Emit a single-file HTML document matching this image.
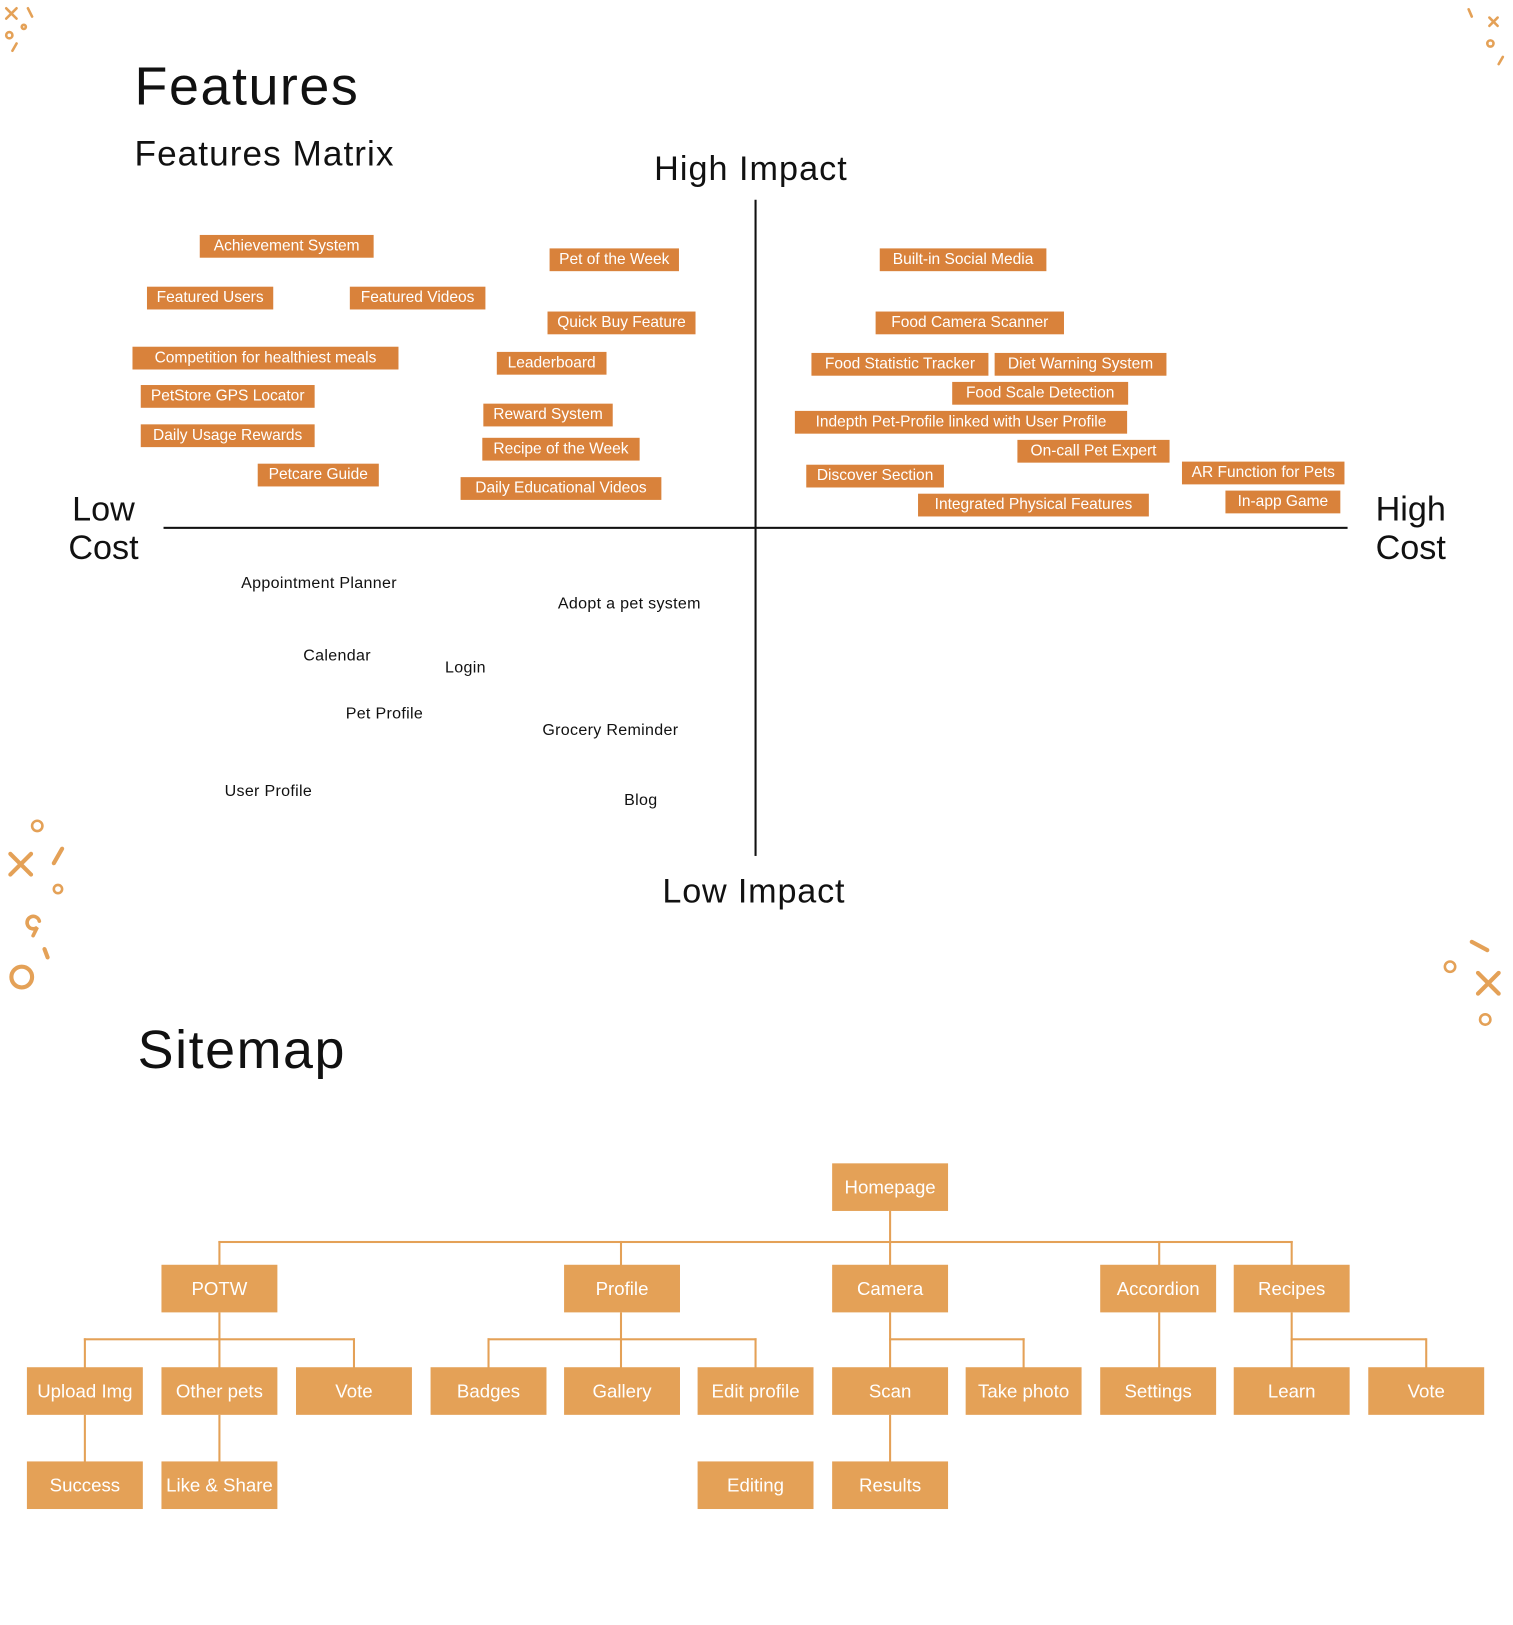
<!DOCTYPE html>
<html><head><meta charset="utf-8"><style>
html,body{margin:0;padding:0;background:#fff;}
body{width:1513px;height:1625px;overflow:hidden;position:relative;}
#w{position:absolute;left:0;top:0;width:1462px;height:1570px;transform:scale(1.035);transform-origin:0 0;font-family:"Liberation Sans",sans-serif;}
.t{position:absolute;color:#111;white-space:nowrap;}
.m{position:absolute;background:#d9823b;color:#fff;font-size:15px;height:22px;line-height:22px;text-align:center;white-space:nowrap;}
.p{position:absolute;font-size:15.5px;letter-spacing:0.3px;color:#111;white-space:nowrap;transform:translateY(-50%);}
.s{position:absolute;background:#e4a157;color:#fff;font-size:18px;width:112px;height:46px;line-height:46px;text-align:center;white-space:nowrap;}
.l{position:absolute;background:#e4a157;}
</style></head><body><div id="w">
<div class="t" style="left:130px;top:54px;font-size:52px;letter-spacing:1.5px;">Features</div>
<div class="t" style="left:130px;top:130px;font-size:34px;letter-spacing:1px;">Features Matrix</div>
<div class="t" style="left:632px;top:144px;font-size:33px;letter-spacing:1px;">High Impact</div>
<div class="t" style="left:640px;top:842px;font-size:33px;letter-spacing:0.8px;">Low Impact</div>
<div class="t" style="left:60px;top:473px;font-size:33px;text-align:center;width:80px;line-height:37px;">Low<br>Cost</div>
<div class="t" style="left:1318px;top:473px;font-size:33px;text-align:center;width:90px;line-height:37px;">High<br>Cost</div>
<div style="position:absolute;left:729px;top:193px;width:2px;height:634px;background:#111"></div>
<div style="position:absolute;left:158px;top:509px;width:1144px;height:2px;background:#111"></div>

<div class="m" style="left:193px;top:227px;width:168px">Achievement System</div>
<div class="m" style="left:531px;top:240px;width:125px">Pet of the Week</div>
<div class="m" style="left:850px;top:240px;width:161px">Built-in Social Media</div>
<div class="m" style="left:142px;top:277px;width:122px">Featured Users</div>
<div class="m" style="left:338px;top:277px;width:131px">Featured Videos</div>
<div class="m" style="left:529px;top:301px;width:143px">Quick Buy Feature</div>
<div class="m" style="left:846px;top:301px;width:182px">Food Camera Scanner</div>
<div class="m" style="left:128px;top:335px;width:257px">Competition for healthiest meals</div>
<div class="m" style="left:480px;top:340px;width:106px">Leaderboard</div>
<div class="m" style="left:784px;top:341px;width:171px">Food Statistic Tracker</div>
<div class="m" style="left:961px;top:341px;width:166px">Diet Warning System</div>
<div class="m" style="left:136px;top:372px;width:168px">PetStore GPS Locator</div>
<div class="m" style="left:920px;top:369px;width:170px">Food Scale Detection</div>
<div class="m" style="left:467px;top:390px;width:125px">Reward System</div>
<div class="m" style="left:768px;top:397px;width:321px">Indepth Pet-Profile linked with User Profile</div>
<div class="m" style="left:136px;top:410px;width:168px">Daily Usage Rewards</div>
<div class="m" style="left:466px;top:423px;width:152px">Recipe of the Week</div>
<div class="m" style="left:983px;top:425px;width:147px">On-call Pet Expert</div>
<div class="m" style="left:249px;top:448px;width:117px">Petcare Guide</div>
<div class="m" style="left:445px;top:461px;width:194px">Daily Educational Videos</div>
<div class="m" style="left:779px;top:449px;width:133px">Discover Section</div>
<div class="m" style="left:1142px;top:446px;width:157px">AR Function for Pets</div>
<div class="m" style="left:887px;top:477px;width:223px">Integrated Physical Features</div>
<div class="m" style="left:1184px;top:474px;width:111px">In-app Game</div>

<div class="p" style="left:233px;top:564px">Appointment Planner</div>
<div class="p" style="left:539px;top:584px">Adopt a pet system</div>
<div class="p" style="left:293px;top:634px">Calendar</div>
<div class="p" style="left:430px;top:646px">Login</div>
<div class="p" style="left:334px;top:690px">Pet Profile</div>
<div class="p" style="left:524px;top:706px">Grocery Reminder</div>
<div class="p" style="left:217px;top:765px">User Profile</div>
<div class="p" style="left:603px;top:774px">Blog</div>

<div class="t" style="left:133px;top:985px;font-size:52px;letter-spacing:1.5px;">Sitemap</div>

<div class="l" style="left:859px;top:1170px;width:2px;height:30px"></div>
<div class="l" style="left:211px;top:1199px;width:1038px;height:2px"></div>
<div class="l" style="left:211px;top:1199px;width:2px;height:24px"></div>
<div class="l" style="left:599px;top:1199px;width:2px;height:24px"></div>
<div class="l" style="left:859px;top:1199px;width:2px;height:24px"></div>
<div class="l" style="left:1119px;top:1199px;width:2px;height:24px"></div>
<div class="l" style="left:1247px;top:1199px;width:2px;height:24px"></div>
<div class="l" style="left:211px;top:1268px;width:2px;height:54px"></div>
<div class="l" style="left:81px;top:1293px;width:262px;height:2px"></div>
<div class="l" style="left:81px;top:1293px;width:2px;height:29px"></div>
<div class="l" style="left:341px;top:1293px;width:2px;height:29px"></div>
<div class="l" style="left:599px;top:1268px;width:2px;height:54px"></div>
<div class="l" style="left:471px;top:1293px;width:260px;height:2px"></div>
<div class="l" style="left:471px;top:1293px;width:2px;height:29px"></div>
<div class="l" style="left:729px;top:1293px;width:2px;height:29px"></div>
<div class="l" style="left:859px;top:1268px;width:2px;height:54px"></div>
<div class="l" style="left:859px;top:1293px;width:131px;height:2px"></div>
<div class="l" style="left:988px;top:1293px;width:2px;height:29px"></div>
<div class="l" style="left:1119px;top:1268px;width:2px;height:54px"></div>
<div class="l" style="left:1247px;top:1268px;width:2px;height:54px"></div>
<div class="l" style="left:1247px;top:1293px;width:131px;height:2px"></div>
<div class="l" style="left:1377px;top:1293px;width:2px;height:29px"></div>
<div class="l" style="left:81px;top:1367px;width:2px;height:46px"></div>
<div class="l" style="left:211px;top:1367px;width:2px;height:46px"></div>
<div class="l" style="left:859px;top:1367px;width:2px;height:46px"></div>

<div class="s" style="left:804px;top:1124px">Homepage</div>
<div class="s" style="left:156px;top:1222px">POTW</div>
<div class="s" style="left:545px;top:1222px">Profile</div>
<div class="s" style="left:804px;top:1222px">Camera</div>
<div class="s" style="left:1063px;top:1222px">Accordion</div>
<div class="s" style="left:1192px;top:1222px">Recipes</div>
<div class="s" style="left:26px;top:1321px">Upload Img</div>
<div class="s" style="left:156px;top:1321px">Other pets</div>
<div class="s" style="left:286px;top:1321px">Vote</div>
<div class="s" style="left:416px;top:1321px">Badges</div>
<div class="s" style="left:545px;top:1321px">Gallery</div>
<div class="s" style="left:674px;top:1321px">Edit profile</div>
<div class="s" style="left:804px;top:1321px">Scan</div>
<div class="s" style="left:933px;top:1321px">Take photo</div>
<div class="s" style="left:1063px;top:1321px">Settings</div>
<div class="s" style="left:1192px;top:1321px">Learn</div>
<div class="s" style="left:1322px;top:1321px">Vote</div>
<div class="s" style="left:26px;top:1412px">Success</div>
<div class="s" style="left:156px;top:1412px">Like &amp; Share</div>
<div class="s" style="left:674px;top:1412px">Editing</div>
<div class="s" style="left:804px;top:1412px">Results</div>

<svg style="position:absolute;left:0;top:0" width="1462" height="1570">
<g stroke="#e4a157" fill="none" stroke-width="2.5" stroke-linecap="round">
<path d="M6 8l10 10M16 8l-10 10M27 8l4 8M16 42l-4 7"/>
<circle cx="9" cy="34" r="3"/><circle cx="23" cy="26" r="2"/>
<path d="M1419 9l3 7M1439 17l8 8M1447 17l-8 8M1452 55l-4 7"/>
<circle cx="1440" cy="42" r="3"/>
<path d="M10 825l20 20M30 825l-20 20M60 820l-8 14M43 917l3 8" stroke-width="4"/>
<circle cx="36" cy="798" r="5"/><circle cx="56" cy="859" r="4"/>
<circle cx="21" cy="944" r="10" stroke-width="4"/>
<path d="M38 890a6 6 0 1 0-2 6l-4 8" stroke-width="3.5"/>
<path d="M1422 910l15 8M1428 940l20 20M1448 940l-20 20" stroke-width="4"/>
<circle cx="1401" cy="934" r="5"/><circle cx="1435" cy="985" r="5"/>
</g></svg>
</div></body></html>
